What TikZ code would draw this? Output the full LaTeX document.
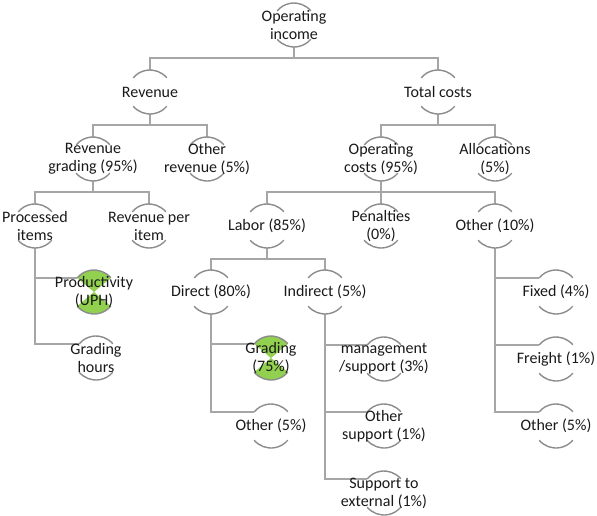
\documentclass[tikz,border=0pt]{standalone}
\usepackage{fontspec}
\setmainfont{Carlito}
\definecolor{rimgray}{HTML}{8C8C8C}
\definecolor{conngray}{HTML}{A6A6A6}
\definecolor{leafgreen}{HTML}{92D050}
\tikzset{
  hub/.style={circle, minimum size=44pt, inner sep=0pt, outer sep=0pt},
  lbl/.style={align=center, font=\fontsize{16}{18}\selectfont, inner sep=0pt, text=black!90},
  rim/.style={draw=rimgray, line width=1.4pt},
  conn/.style={draw=conngray, line width=1.6pt},
  leaf/.style={fill=leafgreen},
}
% a tree node: an invisible circle, its top and bottom rims, and its label
\newcommand\treenode[4]{%
  \node[hub] (#1) at (#2,#3) {};
  \draw[rim] (#1.40) arc[start angle=40,end angle=140,radius=22pt];
  \draw[rim] (#1.220) arc[start angle=220,end angle=320,radius=22pt];
  \node[lbl] (#1-t) at (#1.center) {#4};
}
% the same node with its two rim sectors filled green
\newcommand\greennode[4]{%
  \node[hub] (#1) at (#2,#3) {};
  \fill[leaf] (#1.center) -- (#1.40) arc[start angle=40,end angle=140,radius=22pt] -- cycle;
  \fill[leaf] (#1.center) -- (#1.220) arc[start angle=220,end angle=320,radius=22pt] -- cycle;
  \draw[rim] (#1.40) arc[start angle=40,end angle=140,radius=22pt];
  \draw[rim] (#1.220) arc[start angle=220,end angle=320,radius=22pt];
  \node[lbl] (#1-t) at (#1.center) {#4};
}
\begin{document}
\begin{tikzpicture}[x=1pt,y=-1pt]
\useasboundingbox (0,0) rectangle (597,515);

% positions of the nodes
\node[hub] (oi)   at (294,25)  {};
\node[hub] (rev)  at (150,92)  {};
\node[hub] (tc)   at (438,92)  {};
\node[hub] (rg)   at (93,159)  {};
\node[hub] (orv)  at (207,159) {};
\node[hub] (oc)   at (381,159) {};
\node[hub] (al)   at (495,159) {};
\node[hub] (pi)   at (35,226)  {};
\node[hub] (rpi)  at (149,226) {};
\node[hub] (lab)  at (267,226) {};
\node[hub] (pen)  at (381,226) {};
\node[hub] (oth)  at (495,226) {};
\node[hub] (prod) at (94,292)  {};
\node[hub] (gh)   at (96,358)  {};
\node[hub] (dir)  at (211,292) {};
\node[hub] (ind)  at (325,292) {};
\node[hub] (grd)  at (271,358) {};
\node[hub] (othd) at (271,426) {};
\node[hub] (mgmt) at (384,359) {};
\node[hub] (osup) at (384,426) {};
\node[hub] (sext) at (384,493) {};
\node[hub] (fix)  at (556,292) {};
\node[hub] (frt)  at (556,359) {};
\node[hub] (otho) at (556,426) {};

% connectors
\draw[conn] (oi.south) -- ++(0,-11pt) -| (rev.north);
\draw[conn] (oi.south) -- ++(0,-11pt) -| (tc.north);
\draw[conn] (rev.south) -- ++(0,-11pt) -| (rg.north);
\draw[conn] (rev.south) -- ++(0,-11pt) -| (orv.north);
\draw[conn] (tc.south) -- ++(0,-11pt) -| (oc.north);
\draw[conn] (tc.south) -- ++(0,-11pt) -| (al.north);
\draw[conn] (rg.south) -- ++(0,-11pt) -| (pi.north);
\draw[conn] (rg.south) -- ++(0,-11pt) -| (rpi.north);
\draw[conn] (oc.south) -- ++(0,-11pt) -| (lab.north);
\draw[conn] (oc.south) -- (pen.north);
\draw[conn] (oc.south) -- ++(0,-11pt) -| (oth.north);
\draw[conn] (lab.south) -- ++(0,-11pt) -| (dir.north);
\draw[conn] (lab.south) -- ++(0,-11pt) -| (ind.north);
\draw[conn] (pi.south) |- (prod.140);
\draw[conn] (pi.south) |- (gh.140);
\draw[conn] (dir.south) |- (grd.140);
\draw[conn] (dir.south) |- (othd.140);
\draw[conn] (ind.south) |- (mgmt.140);
\draw[conn] (ind.south) |- (osup.140);
\draw[conn] (ind.south) |- (sext.140);
\draw[conn] (oth.south) |- (fix.140);
\draw[conn] (oth.south) |- (frt.140);
\draw[conn] (oth.south) |- (otho.140);

% rims and labels
\treenode{oi}{294}{25}{Operating\\income}
\treenode{rev}{150}{92}{Revenue}
\treenode{tc}{438}{92}{Total costs}
\treenode{rg}{93}{159}{Revenue\\grading (95\%)}
\treenode{orv}{207}{159}{Other\\revenue (5\%)}
\treenode{oc}{381}{159}{Operating\\costs (95\%)}
\treenode{al}{495}{159}{Allocations\\(5\%)}
\treenode{pi}{35}{226}{Processed\\items}
\treenode{rpi}{149}{226}{Revenue per\\item}
\treenode{lab}{267}{226}{Labor (85\%)}
\treenode{pen}{381}{226}{Penalties\\(0\%)}
\treenode{oth}{495}{226}{Other (10\%)}
\greennode{prod}{94}{292}{Productivity\\(UPH)}
\treenode{gh}{96}{358}{Grading\\hours}
\treenode{dir}{211}{292}{Direct (80\%)}
\treenode{ind}{325}{292}{Indirect (5\%)}
\greennode{grd}{271}{358}{Grading\\(75\%)}
\treenode{othd}{271}{426}{Other (5\%)}
\treenode{mgmt}{384}{359}{management\\/support (3\%)}
\treenode{osup}{384}{426}{Other\\support (1\%)}
\treenode{sext}{384}{493}{Support to\\external (1\%)}
\treenode{fix}{556}{292}{Fixed (4\%)}
\treenode{frt}{556}{359}{Freight (1\%)}
\treenode{otho}{556}{426}{Other (5\%)}
\end{tikzpicture}
\end{document}
